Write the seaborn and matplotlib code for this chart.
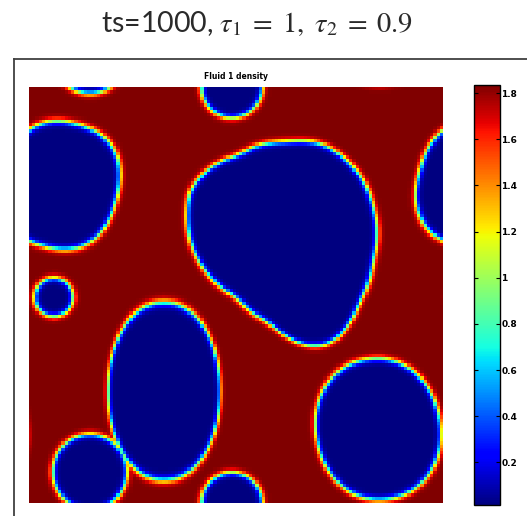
import numpy as np
import matplotlib
matplotlib.use("Agg")
import matplotlib.pyplot as plt
from matplotlib.lines import Line2D
import seaborn as sns

# lattice size of the density field
grid_n = 128

# density levels of the two phases (outside / inside a drop)
rho_bulk = 1.835
rho_drop = 0.015
interface_width = 0.0075

# elliptic drops, domain units (u to the right, v downwards, periodic)
drop_u = [0.077, 0.490, 0.060, 0.326, 0.147, 0.843]
drop_v = [0.236, 0.000, 0.505, 0.731, 0.925, 0.822]
drop_a = [0.138, 0.0735, 0.046, 0.135, 0.0895, 0.150]
drop_b = [0.152, 0.0735, 0.046, 0.214, 0.0905, 0.170]
drop_angle = [15, 0, 0, 0, 0, -10]
drop_power = [2.4, 2.0, 2.0, 2.1, 2.0, 2.1]

# outline of the large rounded-triangle drop in the middle
big_u = [0.623, 0.703, 0.758, 0.807, 0.831, 0.841, 0.831, 0.816, 0.800, 0.775,
         0.734, 0.686, 0.623, 0.582, 0.502, 0.413, 0.389, 0.382, 0.389,
         0.430, 0.461, 0.510, 0.541]
big_v = [0.132, 0.135, 0.168, 0.224, 0.288, 0.351, 0.416, 0.481, 0.512, 0.567,
         0.613, 0.625, 0.601, 0.567, 0.505, 0.423, 0.368, 0.303, 0.248,
         0.200, 0.180, 0.163, 0.144]

cbar_ticks = [0.2, 0.4, 0.6, 0.8, 1.0, 1.2, 1.4, 1.6, 1.8]
cbar_labels = ["0.2", "0.4", "0.6", "0.8", "1", "1.2", "1.4", "1.6", "1.8"]


def wrap(d):
    return (d + 0.5) % 1.0 - 0.5


def ellipse_distance(U, V, cu, cv, a, b, ang, p):
    dx = wrap(U - cu)
    dy = wrap(V - cv)
    t = np.deg2rad(ang)
    xr = dx * np.cos(t) + dy * np.sin(t)
    yr = -dx * np.sin(t) + dy * np.cos(t)
    s = (np.abs(xr / a) ** p + np.abs(yr / b) ** p) ** (1.0 / p)
    return (1.0 - s) * np.sqrt(a * b)


def outline_distance(U, V, pu, pv):
    pu = np.asarray(pu)
    pv = np.asarray(pv)
    cu, cv = pu.mean(), pv.mean()
    ang = np.arctan2(pv - cv, pu - cu)
    rad = np.hypot(pu - cu, pv - cv)
    order = np.argsort(ang)
    # edge radius on a fine angle grid, smoothed so the outline has no kinks
    th = np.linspace(-np.pi, np.pi, 720, endpoint=False)
    r = np.interp(th, ang[order], rad[order], period=2 * np.pi)
    k = 25
    r = np.convolve(np.concatenate([r[-k:], r, r[:k]]), np.ones(k) / k, mode="same")[k:-k]
    dx = wrap(U - cu)
    dy = wrap(V - cv)
    r_edge = np.interp(np.arctan2(dy, dx), th, r, period=2 * np.pi)
    return r_edge - np.hypot(dx, dy)


def build_field():
    c = (np.arange(grid_n) + 0.5) / grid_n
    U, V = np.meshgrid(c, c)
    dist = outline_distance(U, V, big_u, big_v)
    for i in range(len(drop_u)):
        d = ellipse_distance(U, V, drop_u[i], drop_v[i], drop_a[i], drop_b[i],
                             drop_angle[i], drop_power[i])
        dist = np.maximum(dist, d)
    mid = (rho_bulk + rho_drop) / 2
    amp = (rho_bulk - rho_drop) / 2
    return mid - amp * np.tanh(dist / interface_width)


field = build_field()

plt.rcParams["mathtext.fontset"] = "stix"
fig = plt.figure(figsize=(5.27, 5.16), dpi=100)
fig.patch.set_facecolor("white")

ax = fig.add_axes([29 / 527, 1 - 503 / 516, 414 / 527, 416 / 516])
cax = fig.add_axes([474 / 527, 1 - 505 / 516, 26 / 527, 420 / 516])

sns.heatmap(field, cmap="jet", vmin=rho_drop, vmax=rho_bulk, ax=ax, cbar_ax=cax,
            xticklabels=False, yticklabels=False,
            cbar_kws={"ticks": cbar_ticks})
ax.tick_params(left=False, bottom=False)
ax.set_title("Fluid 1 density", fontsize=5.5, fontweight="bold", pad=6)

cax.set_yticklabels(cbar_labels)
cax.tick_params(axis="y", direction="in", left=True, right=True, length=3,
                width=0.8, labelsize=6.5, pad=1)
for lab in cax.get_yticklabels():
    lab.set_fontweight("bold")
cb = ax.collections[0].colorbar
cb.outline.set_edgecolor("black")
cb.outline.set_linewidth(1.0)

# frame of the pasted figure
fy = 1 - 59 / 516
fx = 14 / 527
fig.add_artist(Line2D([fx, 1.0], [fy, fy], color="#404040", lw=1.3))
fig.add_artist(Line2D([fx, fx], [0.0, fy], color="#404040", lw=1.3))

fig.text(0.488, 0.955, r"ts=1000, $\tau_1\;=\;1,\ \tau_2\;=\;0.9$",
         ha="center", va="center", fontsize=20.5, family="Lato", color="#2a2a2a")

fig.savefig("out.png", dpi=100)
